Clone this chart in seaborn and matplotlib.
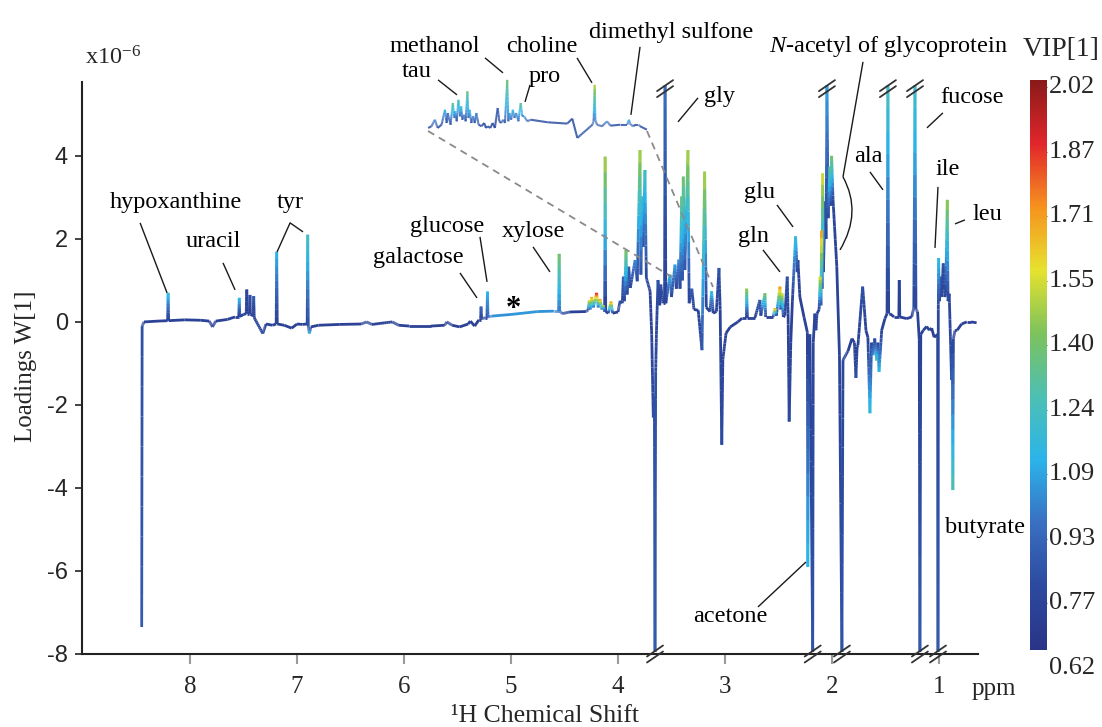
import numpy as np
import matplotlib
matplotlib.use("Agg")
import matplotlib.pyplot as plt
import seaborn as sns
from matplotlib.collections import LineCollection
from matplotlib.colors import Normalize
from matplotlib.lines import Line2D
from matplotlib.path import Path
from matplotlib.patches import PathPatch
import matplotlib.cm as cm

# ---------------------------------------------------------------------------
# OPLS loadings spectrum: (chemical shift ppm, loading W[1] x1e-6, VIP[1])
# ---------------------------------------------------------------------------
region_aromatic = [
    (8.452, -7.35, 0.85), (8.448, -0.10, 0.80), (8.43, 0.00, 0.72),
    (8.30, 0.02, 0.72), (8.21, 0.03, 0.72), (8.205, 0.70, 1.15), (8.20, 0.03, 0.72),
    (8.05, 0.05, 0.72), (7.90, 0.04, 0.72), (7.82, 0.02, 0.72), (7.79, -0.12, 0.75),
    (7.76, 0.02, 0.72), (7.65, 0.06, 0.72), (7.58, 0.12, 0.72),
    (7.545, 0.12, 0.72), (7.54, 0.58, 1.12), (7.535, 0.13, 0.72),
    (7.50, 0.18, 0.72), (7.475, 0.20, 0.72), (7.47, 0.78, 0.75), (7.465, 0.20, 0.72),
    (7.445, 0.20, 0.72), (7.44, 0.65, 0.80), (7.435, 0.18, 0.72),
    (7.41, 0.15, 0.72), (7.405, 0.62, 0.85), (7.40, 0.10, 0.72),
    (7.32, -0.28, 0.80), (7.29, -0.05, 0.72), (7.23, -0.08, 0.72),
    (7.195, -0.05, 0.72), (7.19, 1.69, 1.10), (7.185, -0.05, 0.72),
    (7.12, -0.08, 0.72), (7.05, -0.15, 0.72), (7.00, -0.05, 0.72), (6.95, -0.06, 0.72),
    (6.905, -0.05, 0.72), (6.90, 2.10, 1.22), (6.895, -0.10, 0.80), (6.885, -0.28, 1.10),
    (6.87, -0.12, 0.72),
]

region_sugar = [
    (6.80, -0.08, 0.72), (6.60, -0.06, 0.72), (6.40, -0.05, 0.72), (6.35, 0.00, 0.75),
    (6.30, -0.06, 0.72), (6.11, 0.00, 0.75), (6.05, -0.08, 0.72), (5.95, -0.10, 0.72),
    (5.75, -0.10, 0.72), (5.62, -0.08, 0.72), (5.60, 0.00, 0.75), (5.55, -0.08, 0.72),
    (5.48, -0.12, 0.72), (5.40, -0.05, 0.72), (5.38, 0.02, 0.72), (5.34, -0.10, 0.72),
    (5.30, 0.05, 0.72), (5.285, 0.05, 0.72), (5.28, 0.37, 0.90), (5.275, 0.08, 0.72),
    (5.24, 0.10, 0.75), (5.225, 0.10, 0.75), (5.22, 0.73, 1.10), (5.215, 0.12, 0.90),
    (5.18, 0.14, 1.00), (5.00, 0.18, 1.02), (4.75, 0.25, 1.02), (4.60, 0.26, 1.00),
    (4.555, 0.26, 0.95), (4.55, 1.64, 1.38), (4.545, 0.26, 0.95), (4.52, 0.20, 0.80),
    (4.45, 0.24, 0.72), (4.30, 0.25, 0.72),
]

region_crowded = [
    (4.28, 0.28, 0.75), (4.268, 0.52, 1.55), (4.26, 0.30, 0.90), (4.246, 0.60, 1.70),
    (4.23, 0.35, 0.90), (4.20, 0.70, 1.90), (4.185, 0.35, 0.90), (4.168, 0.55, 1.72),
    (4.15, 0.30, 0.90), (4.137, 0.40, 1.55), (4.125, 0.25, 0.72), (4.12, 3.98, 1.48),
    (4.115, 0.25, 0.72), (4.09, 0.21, 0.72), (4.065, 0.49, 1.72), (4.05, 0.21, 0.72),
    (4.00, 0.24, 0.72), (3.98, 0.51, 0.80), (3.96, 0.45, 0.75), (3.95, 1.09, 0.85),
    (3.94, 0.50, 0.75), (3.925, 1.73, 1.40), (3.915, 0.66, 0.75), (3.90, 1.33, 0.85),
    (3.885, 0.82, 0.75), (3.84, 1.49, 1.00), (3.82, 0.98, 0.75), (3.794, 4.14, 1.48),
    (3.786, 1.14, 0.80), (3.775, 3.02, 1.15), (3.765, 1.81, 0.80), (3.748, 3.66, 1.20),
    (3.735, 1.06, 0.75), (3.70, 0.74, 0.72), (3.685, -0.30, 0.75), (3.67, -2.30, 0.80),
    (3.66, -1.80, 0.80), (3.654, -7.95, 0.85), (3.648, -1.20, 0.80), (3.64, -0.20, 0.75),
    (3.626, 1.01, 0.80), (3.61, 0.40, 0.72), (3.60, 0.90, 0.80), (3.58, 0.45, 0.72),
    (3.565, 0.45, 0.72), (3.56, 5.70, 0.92), (3.553, 0.45, 0.72), (3.514, 1.14, 1.10),
    (3.50, 0.60, 0.75), (3.467, 1.38, 1.05), (3.455, 0.80, 0.75), (3.43, 1.50, 1.00),
    (3.42, 0.80, 0.75), (3.405, 3.02, 1.35), (3.398, 1.00, 0.80), (3.39, 3.50, 1.38),
    (3.375, 1.25, 0.80), (3.346, 4.14, 1.48), (3.335, 0.45, 0.72), (3.31, 0.80, 0.85),
    (3.29, 0.30, 0.72), (3.25, 0.28, 0.72), (3.215, -0.68, 0.80), (3.19, 3.62, 1.48),
    (3.175, 0.35, 0.72), (3.14, 0.25, 0.72), (3.125, 0.74, 1.15), (3.11, 0.21, 0.72),
    (3.08, 0.25, 0.72), (3.056, 1.30, 0.82), (3.045, 0.30, 0.72), (3.03, -2.96, 0.78),
    (3.02, -0.90, 0.75), (2.99, -0.27, 0.72), (2.95, -0.12, 0.72), (2.88, 0.00, 0.72),
    (2.84, 0.09, 0.72),
]

region_aliphatic = [
    (2.80, 0.09, 0.72), (2.797, 0.80, 1.45), (2.79, 0.10, 0.72), (2.72, 0.10, 0.72),
    (2.673, 0.53, 0.85), (2.665, 0.15, 0.72), (2.626, 0.69, 1.40), (2.62, 0.12, 0.72),
    (2.55, 0.12, 0.72), (2.533, 0.33, 1.70), (2.52, 0.15, 0.72), (2.486, 0.85, 1.72),
    (2.478, 0.30, 0.80), (2.467, 0.69, 1.55), (2.455, 0.12, 0.72), (2.44, 0.15, 0.72),
    (2.418, 1.09, 0.82), (2.41, 0.20, 0.72), (2.40, -2.40, 0.78), (2.385, -0.50, 0.72),
    (2.37, 0.50, 0.72), (2.34, 2.06, 1.15), (2.325, 1.20, 0.75), (2.318, 1.49, 0.75),
    (2.30, 0.60, 0.72), (2.26, 0.10, 0.72), (2.23, -0.25, 0.72), (2.226, -5.90, 1.12),
    (2.215, -0.40, 0.72), (2.206, -0.30, 0.72), (2.18, -7.95, 0.82), (2.175, -0.50, 0.75),
    (2.16, 0.20, 0.75), (2.15, -0.20, 0.72), (2.14, 0.20, 0.75), (2.12, 0.30, 0.75),
    (2.11, 1.09, 1.55), (2.103, 0.40, 0.80), (2.097, 2.20, 1.72), (2.092, 0.80, 0.80),
    (2.087, 3.58, 1.55), (2.08, 1.20, 0.75), (2.065, 2.90, 0.72), (2.055, 2.00, 0.75),
    (2.047, 5.70, 1.05), (2.035, 2.50, 0.75), (2.02, 3.74, 1.30), (2.012, 2.80, 0.75),
    (2.003, 4.00, 1.38), (1.99, 2.94, 0.75), (1.955, 1.34, 0.72), (1.93, -0.80, 0.72),
    (1.907, -7.95, 0.82), (1.897, -0.92, 0.75), (1.85, -0.70, 0.72), (1.813, -0.40, 0.72),
    (1.79, -0.50, 0.72), (1.776, -1.35, 0.80), (1.765, -0.60, 0.72), (1.757, -0.56, 0.72),
    (1.713, 0.85, 0.80), (1.682, -0.21, 0.72), (1.664, -0.37, 0.72), (1.645, -2.20, 1.15),
    (1.63, -0.50, 0.75), (1.617, -0.80, 1.00), (1.60, -0.40, 0.75), (1.582, -0.93, 1.20),
    (1.57, -0.50, 0.75), (1.56, -1.20, 1.10), (1.535, -0.20, 0.72), (1.505, 0.08, 0.72),
]

region_methyl = [
    (1.485, 0.20, 0.72), (1.477, 5.70, 1.22), (1.47, 0.20, 0.72), (1.458, 0.20, 0.72),
    (1.42, 0.12, 0.72), (1.375, 0.12, 0.72), (1.371, 1.01, 0.72), (1.366, 0.12, 0.72),
    (1.30, 0.08, 0.72), (1.255, 0.12, 0.72), (1.235, 0.34, 0.75), (1.224, 5.70, 1.20),
    (1.215, 0.30, 0.75), (1.20, 0.25, 0.72), (1.184, -0.43, 0.72), (1.178, -7.95, 0.85),
    (1.17, -0.30, 0.72), (1.146, -0.20, 0.72), (1.115, -0.11, 0.72), (1.09, -0.20, 0.72),
    (1.068, -0.15, 0.72), (1.045, -0.37, 0.72), (1.012, -0.30, 0.72), (1.009, -7.95, 0.85),
    (1.006, 0.30, 0.75), (1.003, 1.54, 1.15), (0.995, 0.50, 0.75), (0.984, 1.09, 0.80),
    (0.975, 0.60, 0.75), (0.96, 1.41, 0.80), (0.945, 0.60, 0.75), (0.937, 0.68, 0.75),
    (0.922, 2.94, 1.45), (0.915, 0.50, 0.75), (0.904, 0.68, 0.75), (0.882, -1.40, 0.80),
    (0.875, -0.50, 0.75), (0.87, -4.05, 1.25), (0.865, -0.40, 0.75), (0.85, -0.21, 0.72),
    (0.83, -0.20, 0.72), (0.788, -0.05, 0.72), (0.74, 0.00, 0.72), (0.70, 0.00, 0.72),
    (0.648, -0.02, 0.72),
]

# Expanded view of 3.50-3.11 ppm (inset trace)
inset_ppm = [3.500, 3.494, 3.488, 3.483, 3.476, 3.470, 3.467, 3.465, 3.460, 3.456,
             3.453, 3.452, 3.449, 3.446, 3.443, 3.441, 3.439, 3.436, 3.433, 3.430,
             3.428, 3.426, 3.423, 3.420, 3.417, 3.414, 3.410, 3.405, 3.400, 3.397,
             3.394, 3.389, 3.385, 3.381, 3.376, 3.373, 3.370, 3.366, 3.363, 3.359,
             3.357, 3.355, 3.352, 3.349, 3.346, 3.343, 3.339, 3.335, 3.332, 3.329,
             3.323, 3.317, 3.287, 3.252, 3.243, 3.234, 3.207, 3.205, 3.203, 3.202,
             3.199, 3.190, 3.181, 3.175, 3.157, 3.145, 3.142, 3.139, 3.134, 3.131,
             3.125, 3.122, 3.110]
inset_w = [0.19, 0.33, 0.87, 0.19, 0.46, 1.69, 0.60, 1.42, 0.46, 2.24,
           1.01, 1.56, 0.74, 2.51, 1.15, 1.97, 0.87, 1.28, 0.74, 3.20,
           1.01, 1.69, 0.60, 1.15, 0.60, 1.42, 0.46, 0.33, 0.60, 0.19,
           0.33, 0.19, 0.60, 0.19, 1.83, 0.74, 0.60, 0.87, 0.60, 4.15,
           0.74, 1.42, 0.87, 1.69, 1.01, 1.42, 0.74, 2.24, 1.15, 1.15,
           0.74, 0.87, 0.66, 0.55, 0.96, -0.63, 0.46, 0.74, 3.74, 0.87,
           0.46, 0.33, 0.74, 0.38, 0.46, 0.46, 0.87, 0.46, 0.33, 0.46,
           0.46, 0.33, 0.05]
inset_vip = [0.80, 0.80, 1.00, 0.80, 0.80, 1.10, 0.80, 0.95, 0.80, 1.30,
             0.90, 1.10, 0.80, 1.25, 0.90, 1.15, 0.80, 1.00, 0.80, 1.35,
             0.90, 1.15, 0.80, 1.00, 0.80, 1.00, 0.80, 0.78, 0.78, 0.78,
             0.78, 0.78, 0.80, 0.78, 0.85, 0.80, 0.80, 0.90, 0.85, 1.38,
             0.90, 1.05, 0.90, 1.10, 0.90, 1.00, 0.90, 1.30, 1.00, 1.00,
             0.85, 0.80, 0.80, 0.80, 0.80, 0.80, 0.85, 0.90, 1.50, 0.95,
             0.85, 0.80, 1.00, 0.80, 0.80, 0.85, 1.10, 0.90, 0.80, 0.80,
             0.85, 0.80, 0.80]

# Peaks running off the plotted range (drawn with break marks)
clipped_top = [3.56, 2.047, 1.477, 1.224]
clipped_bottom = [3.654, 2.18, 1.907, 1.178, 1.009]

vip_ticks = ["2.02", "1.87", "1.71", "1.55", "1.40", "1.24", "1.09", "0.93", "0.77", "0.62"]
vip_min, vip_max = 0.62, 2.02
x_ticks = [8, 7, 6, 5, 4, 3, 2, 1]
y_ticks = [-8, -6, -4, -2, 0, 2, 4]

# Metabolite labels: text, text position (ppm, W), leader line points
labels = [
    ("hypoxanthine", (8.131, 2.867), [(8.467, 2.386), (8.215, 0.699)]),
    ("uracil", (7.785, 1.928), [(7.692, 1.422), (7.579, 0.771)]),
    ("tyr", (7.065, 2.867), [(7.187, 1.687), (7.065, 2.386), (6.944, 2.169)]),
    ("galactose", (5.869, 1.542), [(5.477, 1.181), (5.318, 0.578)]),
    ("glucose", (5.598, 2.289), [(5.290, 2.048), (5.224, 0.964)]),
    ("xylose", (4.794, 2.169), [(4.794, 1.807), (4.636, 1.205)]),
    ("methanol", (5.710, 6.627), [(5.243, 6.361), (5.075, 6.000)]),
    ("tau", (5.879, 6.024), [(5.682, 5.831), (5.505, 5.470)]),
    ("pro", (4.682, 5.904), [(4.822, 5.711), (4.869, 5.301)]),
    ("choline", (4.710, 6.627), [(4.383, 6.361), (4.243, 5.759)]),
    ("dimethyl sulfone", (3.505, 6.964), [(3.794, 6.627), (3.879, 4.988)]),
    ("gly", (3.047, 5.422), [(3.252, 5.398), (3.439, 4.819)]),
    ("$\\mathit{N}$-acetyl of glycoprotein", (1.477, 6.627), [(1.710, 6.265), (1.897, 3.494)]),
    ("ala", (1.664, 3.976), [(1.645, 3.614), (1.523, 3.181)]),
    ("fucose", (0.692, 5.398), [(0.963, 5.036), (1.112, 4.675)]),
    ("ile", (0.916, 3.663), [(1.009, 3.253), (1.037, 1.783)]),
    ("leu", (0.551, 2.578), [(0.757, 2.458), (0.850, 2.361)]),
    ("glu", (2.673, 3.108), [(2.514, 2.819), (2.364, 2.289)]),
    ("gln", (2.738, 2.048), [(2.645, 1.735), (2.486, 1.205)]),
    ("acetone", (2.953, -7.108), [(2.692, -6.867), (2.243, -5.783)]),
    ("butyrate", (0.570, -4.964), []),
    ("*", (4.981, 0.30), []),
]

# ---------------------------------------------------------------------------
sns.set_theme(style="ticks")
plt.rcParams["font.family"] = ["Liberation Serif", "DejaVu Serif"]
plt.rcParams["mathtext.fontset"] = "custom"
plt.rcParams["mathtext.rm"] = "Liberation Serif"
plt.rcParams["mathtext.it"] = "Liberation Serif:italic"

SERIF = "Liberation Serif"
SANS = "Liberation Sans"

vip_cmap = sns.blend_palette(
    ["#2a3486", "#2c4a9f", "#3a6fc1", "#2bb4ea", "#4dbfb3",
     "#7cc25c", "#e6e22e", "#f6921e", "#e2262b", "#8a1a1a"], as_cmap=True)
vip_norm = Normalize(vmin=vip_min, vmax=vip_max)

W_PX, H_PX = 1102, 727
fig = plt.figure(figsize=(W_PX / 100, H_PX / 100), dpi=100)
ax = fig.add_axes([82 / W_PX, 1 - 654 / H_PX, (978 - 82) / W_PX, (654 - 82) / H_PX])
ax.set_xlim(9.01, 0.635)
ax.set_ylim(-8.0, 5.78)


def colored_segments(p, w, v, steps=10):
    segs, vals = [], []
    for i in range(len(p) - 1):
        n = steps if abs(v[i + 1] - v[i]) > 0.03 else 1
        t = np.linspace(0, 1, n + 1)
        xs = p[i] + (p[i + 1] - p[i]) * t
        ys = w[i] + (w[i + 1] - w[i]) * t
        vs = v[i] + (v[i + 1] - v[i]) * (t[:-1] + t[1:]) / 2
        for k in range(n):
            segs.append([(xs[k], ys[k]), (xs[k + 1], ys[k + 1])])
            vals.append(vs[k])
    order = np.argsort(vals, kind="stable")
    return [segs[i] for i in order], np.asarray(vals)[order]


spectrum = region_aromatic + region_sugar + region_crowded + region_aliphatic + region_methyl
sp_ppm = np.array([r[0] for r in spectrum])
sp_w = np.array([r[1] for r in spectrum])
sp_vip = np.array([r[2] for r in spectrum])

segs, vals = colored_segments(sp_ppm, sp_w, sp_vip)
lc = LineCollection(segs, cmap=vip_cmap, norm=vip_norm, linewidths=2.0, capstyle="butt")
lc.set_array(vals)
ax.add_collection(lc)

# axes styling
sns.despine(ax=ax)
for side in ("left", "bottom"):
    ax.spines[side].set_color("#222222")
    ax.spines[side].set_linewidth(1.5)
ax.set_xticks(x_ticks)
ax.set_xticklabels([str(t) for t in x_ticks], fontfamily=SERIF, fontsize=18)
ax.set_yticks(y_ticks)
ax.set_yticklabels([str(t) for t in y_ticks], fontfamily=SANS, fontsize=17)
ax.tick_params(axis="x", direction="out", length=7.5, width=1.5, color="#9a9a9a", pad=8)
ax.tick_params(axis="y", direction="out", length=5, width=1.2, color="#222222", pad=5)
ax.set_facecolor("white")

# labels
for text, pos, line in labels:
    fs = 22 if text == "*" else 17.5
    ax.text(pos[0], pos[1], text, ha="center", va="center", fontsize=fs,
            fontfamily=SERIF, color="black", clip_on=False,
            fontweight="bold" if text == "*" else "normal")
    if line:
        xs, ys = zip(*line)
        ax.plot(xs, ys, color="#1a1a1a", lw=1.0, clip_on=False, solid_capstyle="butt")

# curved bracket for the N-acetyl signal
bracket = Path([(1.897, 3.494), (1.715, 2.639), (1.925, 1.735)],
               [Path.MOVETO, Path.CURVE3, Path.CURVE3])
ax.add_patch(PathPatch(bracket, fill=False, edgecolor="#1a1a1a", lw=1.0, clip_on=False))

# break marks on clipped peaks
inv = fig.transFigure.inverted()


def break_mark(x_ppm, y_val):
    X, Y = ax.transData.transform((x_ppm, y_val))
    for off in (-3.0, 3.0):
        pts = inv.transform([(X - 8, Y - 5.5 + off), (X + 8, Y + 5.5 + off)])
        fig.add_artist(Line2D(pts[:, 0], pts[:, 1], color="#333333", lw=1.3,
                              transform=fig.transFigure))


for p in clipped_top:
    break_mark(p, 5.62)
for p in clipped_bottom:
    break_mark(p, -8.0)

# inset: expanded 3.50-3.11 ppm
iax = fig.add_axes([427 / W_PX, 1 - 140 / H_PX, (648 - 427) / W_PX, 68 / H_PX])
iax.set_xlim(3.502, 3.108)
iax.set_ylim(-0.8, 4.8)
iax.axis("off")
isegs, ivals = colored_segments(np.array(inset_ppm), np.array(inset_w), np.array(inset_vip))
ilc = LineCollection(isegs, cmap=vip_cmap, norm=vip_norm, linewidths=1.5, alpha=0.85)
ilc.set_array(ivals)
iax.add_collection(ilc)

# dashed connectors from the inset to the region it expands


def fig_line(p0, p1, **kw):
    fig.add_artist(Line2D([p0[0] / W_PX, p1[0] / W_PX], [1 - p0[1] / H_PX, 1 - p1[1] / H_PX],
                          transform=fig.transFigure, **kw))


fig_line((428, 131), (672, 277), color="#8a8a8a", lw=1.3, ls=(0, (4, 3)))
fig_line((647, 131), (713, 287), color="#8a8a8a", lw=1.3, ls=(0, (4, 3)))

# axis titles
fig.text(85 / W_PX, 1 - 58 / H_PX, "x10$^{-6}$", fontsize=17.5, fontfamily=SERIF,
         ha="left", va="center")
fig.text(26 / W_PX, 1 - 366 / H_PX, "Loadings W[1]", rotation=90, fontsize=18,
         fontfamily=SERIF, ha="center", va="center")
fig.text(545 / W_PX, 1 - 716 / H_PX, "\u00b9H Chemical Shift", fontsize=18.5,
         fontfamily=SERIF, ha="center", va="center")
fig.text(972 / W_PX, 1 - 689 / H_PX, "ppm", fontsize=18, fontfamily=SERIF,
         ha="left", va="center")

# colour bar
cax = fig.add_axes([1030 / W_PX, 1 - 650 / H_PX, 17 / W_PX, 570 / H_PX])
cb = fig.colorbar(cm.ScalarMappable(norm=vip_norm, cmap=vip_cmap), cax=cax)
cb.outline.set_visible(False)
label_py = np.linspace(87, 668, len(vip_ticks))
tick_vals = [vip_min + (650 - py) / 570 * (vip_max - vip_min) for py in label_py
             if 80 < py < 650]
cax.set_yticks(tick_vals)
cax.set_yticklabels([])
cax.tick_params(axis="y", direction="in", length=3, width=0.8, color="#555555", right=True)
for txt, py in zip(vip_ticks, label_py):
    fig.text(1049 / W_PX, 1 - py / H_PX, txt, fontsize=19, fontfamily=SERIF,
             ha="left", va="center")
fig.text(1061 / W_PX, 1 - 50 / H_PX, "VIP[1]", fontsize=20, fontfamily=SERIF,
         ha="center", va="center")

fig.savefig("out.png", dpi=100, facecolor="white")
